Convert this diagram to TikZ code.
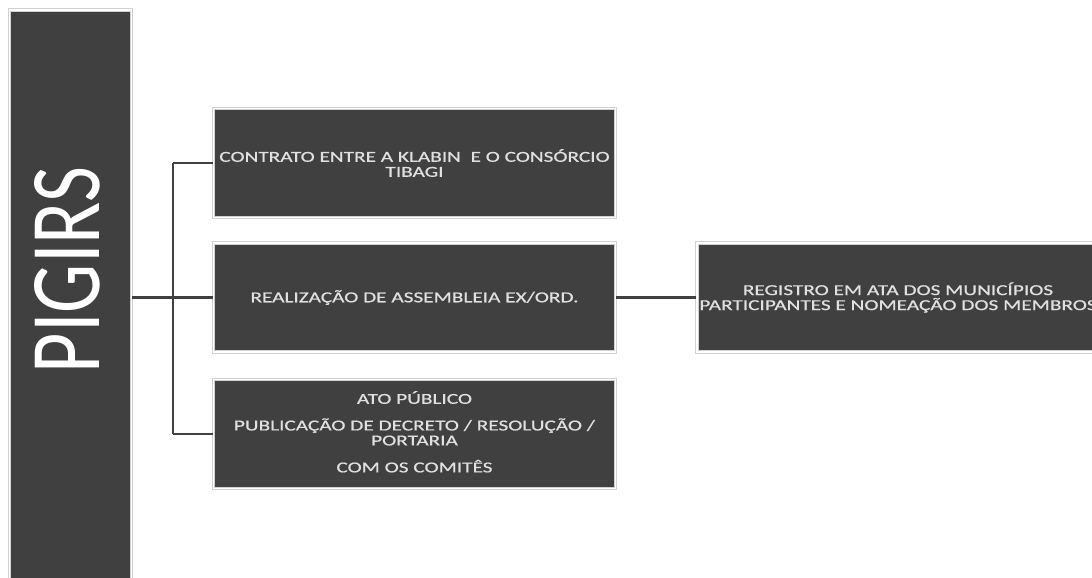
\documentclass[tikz,border=0pt]{standalone}
\usepackage{fontspec}
\setmainfont{Carlito}
\newfontfamily\stagefont[FakeStretch=1.4, FakeBold=0.7]{Carlito}
\definecolor{boxdark}{HTML}{404040}
\definecolor{boxtext}{HTML}{E0E0E0}

\begin{document}
\begin{tikzpicture}[x=0.5pt, y=0.5pt, stage/.style={rectangle, fill=boxdark, draw=black!18, double=white, double distance=0.7pt, line width=0.6pt, minimum width=201pt, minimum height=54.5pt, inner sep=1pt, align=center, text=boxtext, font=\stagefont\fontsize{7.6pt}{7.5pt}\selectfont}, link/.style={draw=boxdark, line width=1.3pt}]

\useasboundingbox (0,0) rectangle (1092,-578); \clip (0,0) rectangle (1092,-578);
\node[stage, minimum width=61pt, minimum height=300pt] (pigirs) at (70.5,-310) {};
\node[text=white, rotate=90] (pigirstext) at (67,-270) {\resizebox{103pt}{32.5pt}{PIGIRS}};

\node[stage] (contrato) at (414.5,-163) {CONTRATO ENTRE A KLABIN~~E O CONSÓRCIO\\TIBAGI};
\node[stage] (assembleia) at (414.5,-297.5) {REALIZAÇÃO DE ASSEMBLEIA EX/ORD.};
\node[stage] (ato) at (414.5,-434) {\raisebox{2pt}{\begin{tabular}{@{}c@{}}ATO PÚBLICO\\[5pt]PUBLICAÇÃO DE DECRETO / RESOLUÇÃO /\\PORTARIA\\[5pt]COM OS COMITÊS\end{tabular}}};
\node[stage] (registro) at (898,-297.5) {REGISTRO EM ATA DOS MUNICÍPIOS\\PARTICIPANTES E NOMEAÇÃO DOS MEMBROS};

\coordinate (fork) at (173,-297.5);
\draw[link] (pigirs.east |- assembleia) -- (assembleia.west); \draw[link] (fork |- contrato) -- (fork |- ato);
\draw[link] (fork |- contrato) -- (contrato.west); \draw[link] (fork |- ato) -- (ato.west);
\draw[link] (assembleia.east) -- (registro.west);
\end{tikzpicture}
\end{document}
